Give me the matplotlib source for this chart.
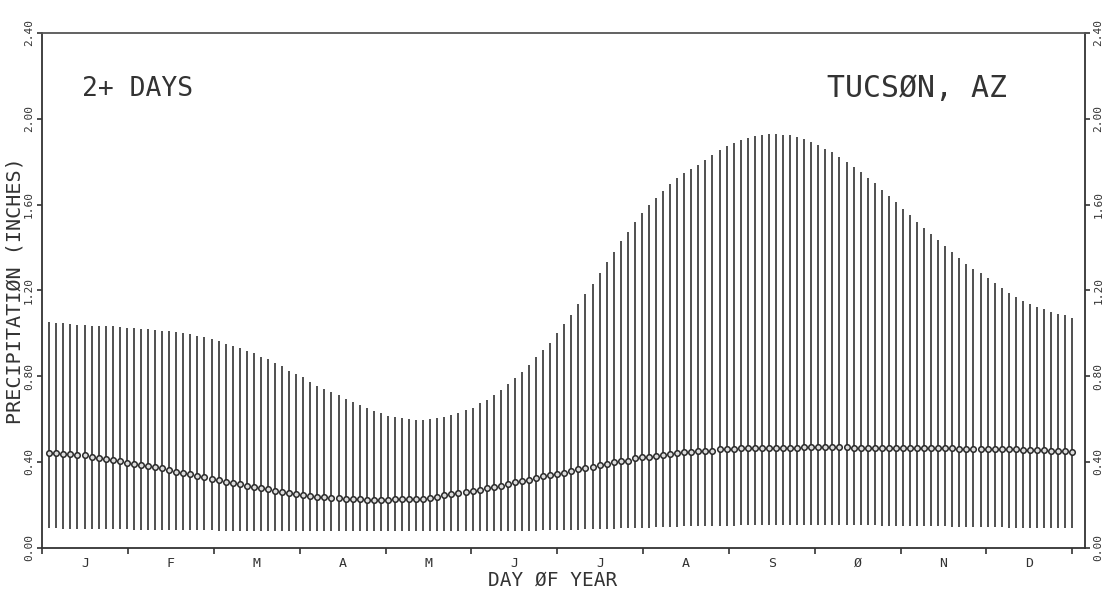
import numpy as np
import matplotlib
matplotlib.use('Agg')
import matplotlib.pyplot as plt

# one bar every 2.5 days through the year
days = np.arange(1, 147) * 2.5

top = [1.054, 1.049, 1.046, 1.043, 1.038, 1.038, 1.035, 1.035, 1.032, 1.032,
       1.030, 1.026, 1.024, 1.021, 1.018, 1.016, 1.012, 1.010, 1.007, 1.001,
       0.995, 0.988, 0.981, 0.972, 0.962, 0.951, 0.942, 0.932, 0.918, 0.906,
       0.890, 0.878, 0.863, 0.847, 0.825, 0.810, 0.794, 0.774, 0.755, 0.741,
       0.726, 0.712, 0.693, 0.678, 0.665, 0.650, 0.637, 0.627, 0.616, 0.609, 0.603,
       0.599, 0.595, 0.595, 0.599, 0.603, 0.608, 0.617, 0.627, 0.641, 0.653,
       0.673, 0.689, 0.712, 0.735, 0.763, 0.790, 0.821, 0.853, 0.888, 0.922,
       0.956, 0.999,
       1.042, 1.087, 1.134, 1.182, 1.231, 1.281, 1.331, 1.380, 1.428, 1.474,
       1.518, 1.559, 1.597, 1.632, 1.664, 1.694, 1.722, 1.745, 1.766, 1.786,
       1.807, 1.830, 1.853, 1.873, 1.888, 1.901,
       1.909, 1.921, 1.925, 1.929, 1.929, 1.925, 1.923, 1.916, 1.905, 1.893,
       1.877, 1.860, 1.843, 1.820, 1.798, 1.773, 1.750, 1.724, 1.699, 1.669,
       1.641, 1.612, 1.580, 1.550, 1.518, 1.490, 1.461, 1.433, 1.405, 1.379,
       1.351, 1.323, 1.301, 1.279, 1.256, 1.233, 1.209, 1.186, 1.167, 1.150,
       1.135, 1.122, 1.111, 1.100, 1.089, 1.085, 1.072]

mean = [0.443, 0.441, 0.438, 0.435, 0.432, 0.431, 0.424, 0.417, 0.412, 0.409,
        0.404, 0.396, 0.392, 0.386, 0.381, 0.375, 0.370, 0.361, 0.354, 0.350,
        0.342, 0.334, 0.328, 0.322, 0.314, 0.308, 0.303, 0.296, 0.289, 0.284,
        0.277, 0.272, 0.264, 0.261, 0.254, 0.249, 0.246, 0.241, 0.238, 0.235,
        0.230, 0.230, 0.227, 0.226, 0.226, 0.222, 0.221, 0.221, 0.222, 0.225, 0.225,
        0.227, 0.227, 0.229, 0.233, 0.238, 0.244, 0.250, 0.253, 0.260, 0.263,
        0.270, 0.277, 0.283, 0.289, 0.297, 0.305, 0.312, 0.317, 0.326, 0.334,
        0.340, 0.344, 0.350, 0.358, 0.365, 0.370, 0.376, 0.384, 0.390, 0.400,
        0.403, 0.406, 0.417, 0.421, 0.424, 0.428, 0.431, 0.435, 0.440, 0.445,
        0.446, 0.451, 0.451, 0.452, 0.460, 0.460, 0.460, 0.463, 0.463,
        0.464, 0.465, 0.466, 0.466, 0.467, 0.467, 0.467, 0.468, 0.468, 0.468,
        0.468, 0.468, 0.468, 0.468, 0.467, 0.467,
        0.467, 0.467, 0.466, 0.466, 0.466, 0.465, 0.465, 0.465, 0.464, 0.464,
        0.464, 0.463, 0.463, 0.462, 0.462, 0.461,
        0.461, 0.460, 0.460, 0.459, 0.459, 0.458, 0.457, 0.456, 0.455, 0.454,
        0.452, 0.451, 0.449, 0.447]

bottom = [0.090, 0.090, 0.089, 0.089, 0.088, 0.088, 0.087, 0.087, 0.086, 0.086,
          0.085, 0.085, 0.084, 0.084, 0.084, 0.083, 0.083, 0.083, 0.082, 0.082,
          0.082, 0.081, 0.081, 0.081, 0.080, 0.080, 0.080, 0.080, 0.079, 0.079,
          0.079, 0.079, 0.078, 0.078, 0.078, 0.078, 0.078, 0.077, 0.077, 0.077,
          0.077, 0.077, 0.076, 0.076, 0.076, 0.076, 0.076, 0.076, 0.076, 0.076,
          0.076, 0.076, 0.076, 0.076, 0.076, 0.076, 0.076, 0.076, 0.076, 0.077,
          0.077, 0.077, 0.077, 0.078, 0.078, 0.078, 0.079, 0.079, 0.080, 0.080,
          0.081, 0.081, 0.082, 0.083, 0.083, 0.084, 0.085, 0.086, 0.087, 0.088,
          0.089, 0.090, 0.091, 0.092, 0.093, 0.094, 0.095, 0.096, 0.097, 0.098,
          0.099, 0.100, 0.100, 0.101, 0.102, 0.102, 0.103, 0.103, 0.104, 0.104,
          0.105, 0.105, 0.105, 0.106, 0.106, 0.106, 0.106, 0.106, 0.106, 0.106,
          0.106, 0.106, 0.105, 0.105, 0.105, 0.104, 0.104, 0.104, 0.103, 0.103,
          0.102, 0.102, 0.101, 0.101, 0.100, 0.100, 0.099, 0.099, 0.098, 0.098,
          0.097, 0.097, 0.096, 0.096, 0.095, 0.095, 0.094, 0.094, 0.093, 0.093,
          0.092, 0.092, 0.092, 0.091, 0.091, 0.091]

months = ['J', 'F', 'M', 'A', 'M', 'J', 'J', 'A', 'S', 'Ø', 'N', 'D']
yticks = [0.0, 0.4, 0.8, 1.2, 1.6, 2.0, 2.4]

ink = '#333333'
font = 'DejaVu Sans Mono'
plt.rcParams['font.family'] = font

fig = plt.figure(figsize=(11.16, 6.02), dpi=100)
ax = fig.add_axes([0.0378, 0.0902, 0.9344, 0.855])

ax.vlines(days, bottom, top, color='#3a3a3a', lw=1.25)
ax.plot(days, mean, 'o', ls='none', ms=4.0, mfc='#dddddd', mec='#2a2a2a', mew=1.1)

month_len = 365 / 12
ax.set_xlim(0, 369.5)
ax.set_ylim(0, 2.4)
ax.set_xticks(np.arange(13) * month_len)
ax.set_xticklabels([])
ax.set_xticks(np.arange(12) * month_len + month_len / 2, minor=True)
ax.set_xticklabels(months, minor=True, fontsize=9.5, color=ink)
ax.tick_params(axis='x', which='major', direction='out', length=4, width=1.2, color=ink)
ax.tick_params(axis='x', which='minor', length=0, pad=6.5)

ax.set_yticks(yticks)
ax.set_yticklabels(['%.2f' % v for v in yticks])
ax.tick_params(axis='y', direction='out', length=3.5, width=1.2, color=ink,
               right=True, labelright=True, labelrotation=90, labelsize=8,
               labelcolor=ink, pad=2.5)
for t in ax.yaxis.get_major_ticks():
    t.label1.set_va('center')
    t.label2.set_va('center')

for s in ax.spines.values():
    s.set_color(ink)
    s.set_linewidth(1.3)
ax.spines['top'].set_color('#555555')

ax.text(-0.0262, 0.5, 'PRECIPITATIØN (INCHES)', transform=ax.transAxes,
        rotation=90, ha='center', va='center', fontsize=14.5, color=ink)
ax.text(0.4892, -0.0625, 'DAY ØF YEAR', transform=ax.transAxes,
        ha='center', va='center', fontsize=14, color=ink)
ax.text(0.0383, 0.8912, '2+ DAYS', transform=ax.transAxes,
        ha='left', va='center', fontsize=19, color=ink)
ax.text(0.9250, 0.8912, 'TUCSØN, AZ', transform=ax.transAxes,
        ha='right', va='center', fontsize=21.5, color=ink)

fig.savefig('out.png', dpi=100, facecolor='white')
